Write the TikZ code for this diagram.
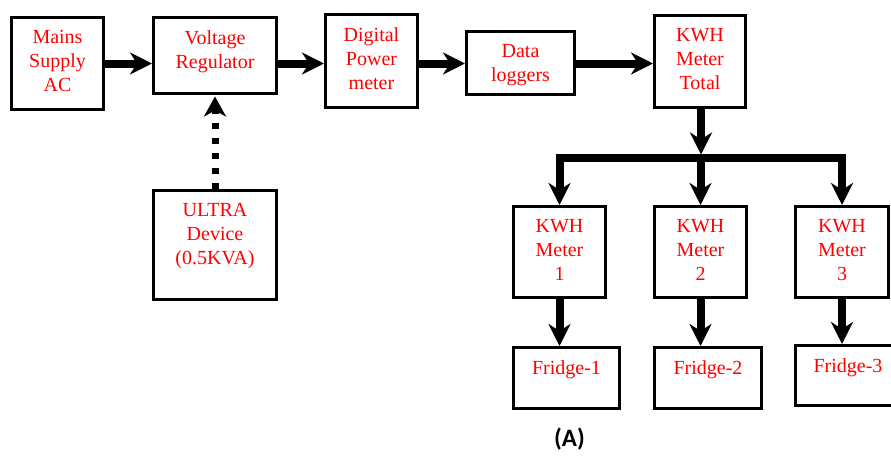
\documentclass[tikz,border=0pt]{standalone}
\usepackage{fontspec}
\setmainfont{Liberation Serif}
\newfontfamily\capfont{Carlito}
\usetikzlibrary{arrows.meta}
\begin{document}
\begin{tikzpicture}[x=1pt,y=-1pt,
  box/.style={draw=black, line width=3pt, fill=white, inner sep=0pt},
  txt/.style={text=red, font=\rmfamily\fontsize{20}{24}\selectfont, align=center, inner sep=0pt, anchor=north, yshift=-14.5pt},
  arr/.style={line width=8pt, -{Stealth[length=22pt,width=22pt,inset=7pt]}},
  dotarr/.style={line width=7pt, dash pattern=on 6.5pt off 8.5pt, -{Stealth[length=20pt,width=22pt,inset=6pt]}}
]
\useasboundingbox (0,0) rectangle (891,455);
\clip (0,0) rectangle (891,455);

% boxes
\node[box, minimum width=92pt, minimum height=92pt] (mains) at (57.5,63.5) {};
\node[box, minimum width=123pt, minimum height=76pt] (volt) at (215,55.5) {};
\node[box, minimum width=92pt, minimum height=93pt] (dig) at (371.5,61) {};
\node[box, minimum width=108pt, minimum height=63pt] (data) at (520.5,63) {};
\node[box, minimum width=91pt, minimum height=92pt] (tot) at (700,61.5) {};
\node[box, minimum width=123pt, minimum height=109pt] (ultra) at (215,245) {};
\node[box, minimum width=92pt, minimum height=91pt] (k1) at (559.5,252) {};
\node[box, minimum width=92pt, minimum height=91pt] (k2) at (700.5,252) {};
\node[box, minimum width=93pt, minimum height=91pt] (k3) at (842,252) {};
\node[box, minimum width=106pt, minimum height=61pt] (f1) at (566.5,378) {};
\node[box, minimum width=107pt, minimum height=61pt] (f2) at (708,378) {};
\node[box, minimum width=107pt, minimum height=60pt] (f3) at (849,375.5) {};

% texts
\node[txt] (mainsT) at (mains.north) {Mains\\Supply\\AC};
\node[txt] (voltT) at (volt.north) {Voltage\\Regulator};
\node[txt] (digT) at (dig.north) {Digital\\Power\\meter};
\node[txt] (dataT) at (data.north) {Data\\loggers};
\node[txt] (totT) at (tot.north) {KWH\\Meter\\Total};
\node[txt] (ultraT) at (ultra.north) {ULTRA\\Device\\(0.5KVA)};
\node[txt] (k1T) at (k1.north) {KWH\\Meter\\1};
\node[txt] (k2T) at (k2.north) {KWH\\Meter\\2};
\node[txt] (k3T) at (k3.north) {KWH\\Meter\\3};
\node[txt] (f1T) at (f1.north) {Fridge-1};
\node[txt] (f2T) at (f2.north) {Fridge-2};
\node[txt] (f3T) at ([xshift=-1pt]f3.north) {Fridge-3};

% horizontal arrows
\draw[arr] (mains.east) -- (volt.west |- mains.east);
\draw[arr] (volt.east |- mains.east) -- (dig.west |- mains.east);
\draw[arr] (dig.east |- mains.east) -- (data.west |- mains.east);
\draw[arr] (data.east |- mains.east) -- (tot.west |- mains.east);

% dotted arrow
\draw[dotarr, shorten >=1.5pt] (ultra.north) -- (volt.south);

% distribution
\coordinate (barc) at (701,158);
\draw[line width=8pt, line cap=rect] (k1.north |- barc) -- (k3.north |- barc);
\draw[arr] (k1.north |- barc) -- (k1.north);
\draw[arr] (k2.north |- barc) -- (k2.north);
\draw[arr] (k3.north |- barc) -- (k3.north);
\draw[arr, shorten >=3.5pt] (tot.south -| barc) -- (barc);

% to fridges
\draw[arr] (k1.south) -- (k1.south |- f1.north);
\draw[arr] (k2.south) -- (k2.south |- f2.north);
\draw[arr] (k3.south) -- (k3.south |- f3.north);

% caption
\node[font=\capfont\bfseries\fontsize{25}{30}\selectfont, inner sep=0pt] (cap) at (569.5,439) {(A)};
\end{tikzpicture}
\end{document}
